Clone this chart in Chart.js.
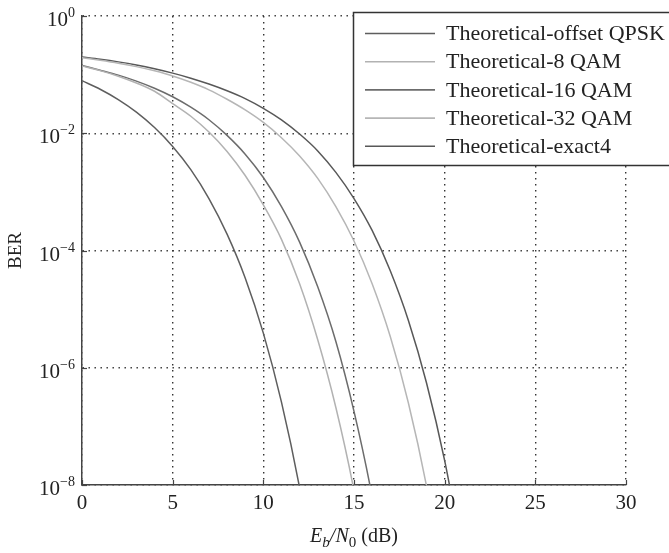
<!DOCTYPE html>
<html>
<head>
<meta charset="utf-8">
<script src="https://cdn.jsdelivr.net/npm/chart.js@4/dist/chart.umd.min.js"></script>
<style>
    html, body { margin: 0; padding: 0; background: #fff; }
    #wrap { width: 669px; height: 553px; }
</style>
</head>
<body>
<div id="wrap"><canvas id="berChart" width="669" height="553"></canvas></div>
<script>
// Eb/N0 축 (dB)
const ebno = [0, 1, 2, 3, 4, 5, 6, 7, 8, 9, 10, 11, 12, 13, 14, 15, 16, 17, 18, 19, 20, 21];

// 그림에서 읽은 BER 값
const berOffsetQpsk = [0.0786, 0.0563, 0.0375, 0.0229, 0.0125, 0.00595, 0.00239, 7.7e-4, 1.9e-4, 3.4e-5, 3.9e-6, 2.6e-7, 9.0e-9, 1.3e-10];
const ber8Qam = [0.140, 0.117, 0.094, 0.072, 0.052, 0.032, 0.0195, 0.0105, 0.0049, 0.0019, 6.0e-4, 1.55e-4, 2.7e-5, 3.0e-6, 2.1e-7, 8.0e-9, 1.3e-10];
const ber16Qam = [0.143, 0.119, 0.098, 0.0775, 0.0586, 0.0419, 0.0278, 0.0170, 0.0092, 0.0044, 0.00176, 5.6e-4, 1.39e-4, 2.4e-5, 2.8e-6, 1.8e-7, 6.3e-9, 9e-11];
const ber32Qam = [0.195, 0.176, 0.157, 0.137, 0.116, 0.095, 0.074, 0.055, 0.038, 0.025, 0.0153, 0.0084, 0.0041, 0.0017, 5.6e-4, 1.45e-4, 2.7e-5, 3.4e-6, 2.5e-7, 9.6e-9, 1.6e-10];
const berExact4 = [0.200, 0.183, 0.165, 0.146, 0.126, 0.106, 0.087, 0.069, 0.053, 0.039, 0.0266, 0.0169, 0.0097, 0.0050, 0.00215, 7.7e-4, 2.2e-4, 4.5e-5, 6.4e-6, 5.5e-7, 2.6e-8, 5.9e-10];

const seriesLabels = ['Theoretical-offset QPSK', 'Theoretical-8 QAM', 'Theoretical-16 QAM', 'Theoretical-32 QAM', 'Theoretical-exact4'];
const seriesColors = ['#5e5e5e', '#b2b2b2', '#6c6c6c', '#b6b6b6', '#585858'];

// 눈금
const xTicks = [0, 5, 10, 15, 20, 25, 30];
const yTicks = [1, 1e-2, 1e-4, 1e-6, 1e-8];

const FONT = '"Liberation Serif", "DejaVu Serif", serif';

function toPoints(values) {
    return values.map((v, i) => ({ x: ebno[i], y: v }));
}

const allSeries = [berOffsetQpsk, ber8Qam, ber16Qam, ber32Qam, berExact4];

// 텍스트/범례 직접 그리기
const labelPlugin = {
    id: 'labelPlugin',
    afterDraw(chart) {
        const ctx = chart.ctx;
        const area = chart.chartArea;
        const xs = chart.scales.x;
        const ys = chart.scales.y;
        ctx.save();

        // 안쪽 눈금 표시
        ctx.strokeStyle = '#444';
        ctx.lineWidth = 1.2;
        xTicks.forEach(v => {
            const px = Math.round(xs.getPixelForValue(v)) + 0.5;
            ctx.beginPath();
            ctx.moveTo(px, area.bottom);
            ctx.lineTo(px, area.bottom - 5);
            ctx.stroke();
        });
        yTicks.forEach(v => {
            const py = Math.round(ys.getPixelForValue(v)) + 0.5;
            ctx.beginPath();
            ctx.moveTo(area.left, py);
            ctx.lineTo(area.left + 5, py);
            ctx.stroke();
        });

        ctx.fillStyle = '#222';

        // x 눈금 라벨
        ctx.font = '21px ' + FONT;
        ctx.textAlign = 'center';
        ctx.textBaseline = 'top';
        xTicks.forEach(v => {
            ctx.fillText(String(v), xs.getPixelForValue(v), area.bottom + 8);
        });

        // y 눈금 라벨 (10^n)
        ctx.textAlign = 'left';
        ctx.textBaseline = 'alphabetic';
        yTicks.forEach(v => {
            const exp = Math.round(Math.log10(v));
            const sup = exp === 0 ? '0' : '\u2212' + Math.abs(exp);
            const py = ys.getPixelForValue(v);
            ctx.font = '21px ' + FONT;
            const baseW = ctx.measureText('10').width;
            ctx.font = '14px ' + FONT;
            const supW = ctx.measureText(sup).width;
            const right = area.left - 7;
            ctx.font = '21px ' + FONT;
            ctx.fillText('10', right - supW - baseW, py + 10);
            ctx.font = '14px ' + FONT;
            ctx.fillText(sup, right - supW, py + 1);
        });

        // y 축 제목
        ctx.save();
        ctx.translate(16, (area.top + area.bottom) / 2);
        ctx.rotate(-Math.PI / 2);
        ctx.font = '19px ' + FONT;
        ctx.textAlign = 'center';
        ctx.textBaseline = 'middle';
        ctx.fillText('BER', 0, 0);
        ctx.restore();

        // x 축 제목: E_b/N_0 (dB)
        const parts = [
            { t: 'E', f: 'italic 20px ' + FONT, dy: 0 },
            { t: 'b', f: 'italic 15px ' + FONT, dy: 5 },
            { t: '/N', f: 'italic 20px ' + FONT, dy: 0 },
            { t: '0', f: '15px ' + FONT, dy: 5 },
            { t: ' (dB)', f: '20px ' + FONT, dy: 0 }
        ];
        let total = 0;
        parts.forEach(p => { ctx.font = p.f; p.w = ctx.measureText(p.t).width; total += p.w; });
        let cx = (area.left + area.right) / 2 - total / 2;
        const baseY = 542;
        ctx.textAlign = 'left';
        parts.forEach(p => {
            ctx.font = p.f;
            ctx.fillText(p.t, cx, baseY + p.dy);
            cx += p.w;
        });

        // 범례
        const bx = 353.5, by = 12.5, bw = 330, bh = 153;
        ctx.fillStyle = '#fff';
        ctx.fillRect(bx, by, bw, bh);
        ctx.strokeStyle = '#333';
        ctx.lineWidth = 1.5;
        ctx.strokeRect(bx, by, bw, bh);
        ctx.font = '22px ' + FONT;
        ctx.textBaseline = 'middle';
        chart.data.datasets.forEach((ds, i) => {
            const ry = 33.5 + i * 28.2;
            ctx.strokeStyle = ds.borderColor;
            ctx.lineWidth = 1.6;
            ctx.beginPath();
            ctx.moveTo(365, ry);
            ctx.lineTo(435, ry);
            ctx.stroke();
            ctx.fillStyle = '#222';
            ctx.fillText(ds.label, 446, ry + 1);
        });

        ctx.restore();
    }
};

new Chart(document.getElementById('berChart'), {
    type: 'line',
    data: {
        datasets: allSeries.map((vals, i) => ({
            label: seriesLabels[i],
            data: toPoints(vals),
            borderColor: seriesColors[i],
            borderWidth: 1.5,
            pointRadius: 0,
            fill: false,
            cubicInterpolationMode: 'monotone'
        }))
    },
    options: {
        responsive: false,
        animation: false,
        layout: { padding: { left: 82, right: 43, top: 16, bottom: 68 } },
        plugins: {
            legend: { display: false },
            tooltip: { enabled: false }
        },
        scales: {
            x: {
                type: 'linear',
                min: 0,
                max: 30,
                afterBuildTicks: s => { s.ticks = xTicks.map(v => ({ value: v })); },
                afterFit: s => { s.height = 0; },
                ticks: { display: false },
                grid: { color: '#333', lineWidth: 1.4, drawTicks: false },
                border: { display: true, color: '#444', width: 1.5, dash: [1.4, 4.6] }
            },
            y: {
                type: 'logarithmic',
                min: 1e-8,
                max: 1,
                afterBuildTicks: s => { s.ticks = yTicks.map(v => ({ value: v })); },
                afterFit: s => { s.width = 0; },
                ticks: { display: false },
                grid: { color: '#333', lineWidth: 1.4, drawTicks: false },
                border: { display: true, color: '#444', width: 1.5, dash: [1.4, 4.6] }
            }
        }
    },
    plugins: [labelPlugin]
});
</script>
</body>
</html>
